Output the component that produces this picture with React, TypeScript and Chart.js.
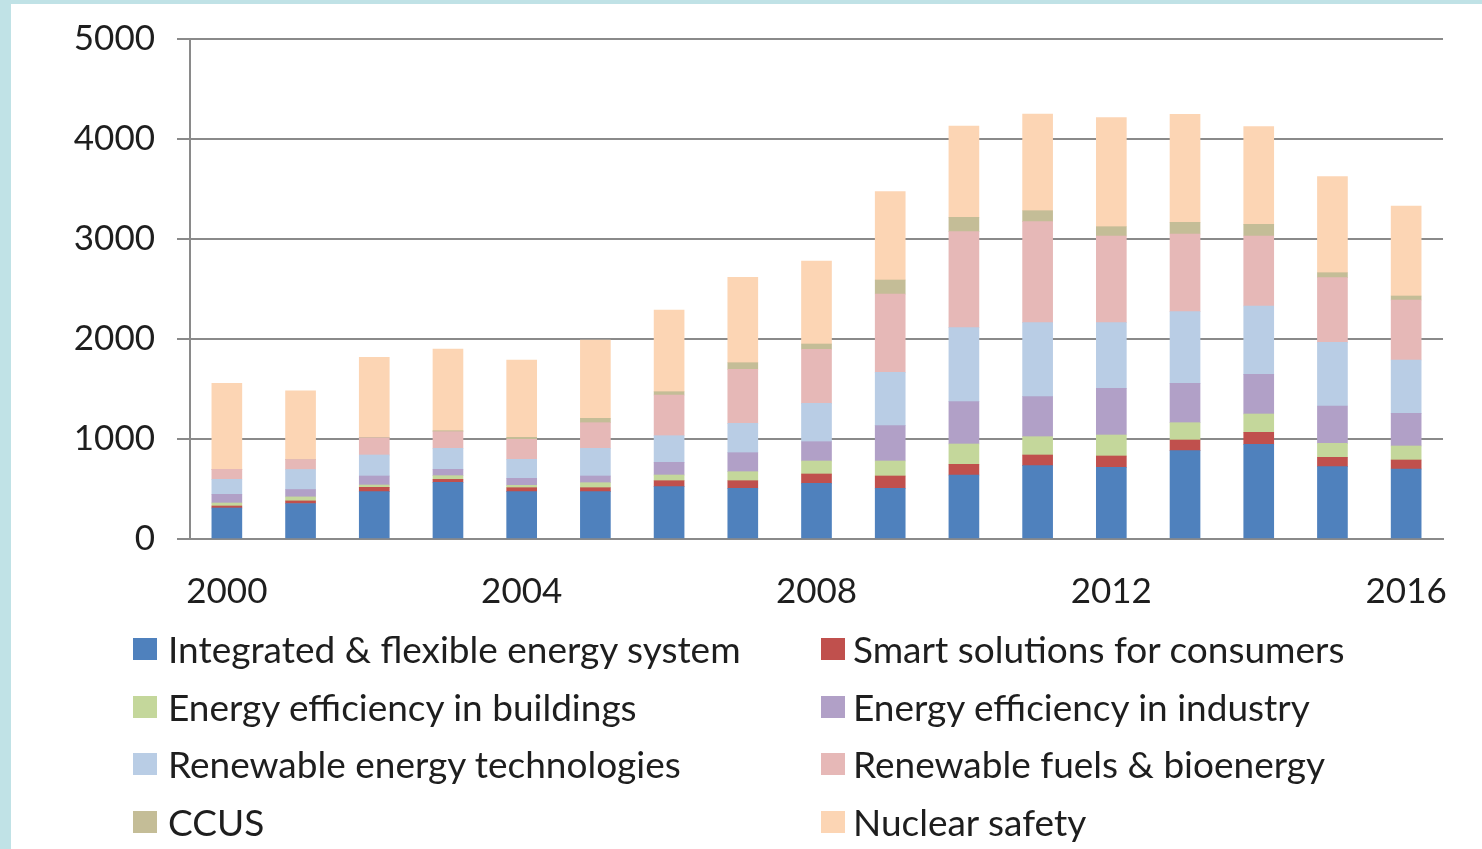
import React, { useEffect, useRef } from "react";
import { Chart, registerables } from "chart.js";

Chart.register(...registerables);

const years = ["2000","2001","2002","2003","2004","2005","2006","2007","2008","2009","2010","2011","2012","2013","2014","2015","2016"];
const shownYears = ["2000", "2004", "2008", "2012", "2016"];
const yTicks = [0, 1000, 2000, 3000, 4000, 5000];

const integrated = [310, 355, 473, 567, 473, 473, 523, 507, 557, 507, 640, 733, 717, 883, 947, 723, 700];
const smart = [20, 26, 44, 30, 40, 40, 60, 76, 93, 123, 107, 107, 113, 107, 120, 94, 90];
const buildings = [30, 40, 23, 36, 24, 50, 57, 90, 130, 150, 203, 183, 210, 173, 183, 140, 140];
const industry = [87, 74, 90, 64, 70, 67, 127, 190, 193, 353, 423, 400, 467, 394, 397, 373, 327];
const renewableTech = [150, 200, 210, 210, 190, 277, 266, 294, 384, 534, 740, 740, 656, 716, 683, 637, 533];
const renewableFuels = [100, 100, 172, 166, 200, 256, 407, 540, 540, 783, 960, 1010, 867, 777, 700, 646, 600];
const ccus = [0, 0, 5, 10, 20, 44, 33, 66, 53, 140, 144, 110, 93, 117, 117, 50, 40];
const nuclear = [860, 686, 800, 817, 773, 783, 817, 854, 830, 883, 913, 967, 1090, 1080, 976, 960, 900];

const seriesLabels = [
  "Integrated & flexible energy system",
  "Smart solutions for consumers",
  "Energy efficiency in buildings",
  "Energy efficiency in industry",
  "Renewable energy technologies",
  "Renewable fuels & bioenergy",
  "CCUS",
  "Nuclear safety",
];
const seriesData = [integrated, smart, buildings, industry, renewableTech, renewableFuels, ccus, nuclear];
const seriesColors = ["#4F81BD", "#C0504D", "#C4D79B", "#B1A0C7", "#B9CDE5", "#E6B8B7", "#C4BD97", "#FCD5B4"];

const FONT = "Lato, 'Open Sans', sans-serif";
const TEXT = "#1e1e1e";
const GRID = "#8a8a8a";

export default function App() {
  const ref = useRef<HTMLCanvasElement | null>(null);

  useEffect(() => {
    if (!ref.current) return;
    const chart = new Chart(ref.current, {
      type: "bar",
      data: {
        labels: years,
        datasets: seriesLabels.map((label, i) => ({
          label,
          data: seriesData[i],
          backgroundColor: seriesColors[i],
          borderWidth: 0,
          barThickness: 30,
        })),
      },
      options: {
        responsive: false,
        animation: false,
        devicePixelRatio: 1,
        layout: { padding: { left: 0, right: 39, top: 39, bottom: 210 } },
        plugins: {
          legend: { display: false },
          tooltip: { enabled: false },
        },
        scales: {
          x: {
            stacked: true,
            grid: { display: false, drawTicks: false },
            border: { display: true, color: GRID, width: 2 },
            ticks: {
              autoSkip: false,
              maxRotation: 0,
              padding: 32,
              color: TEXT,
              font: { family: FONT, size: 35 },
              callback: (_v: any, idx: number) => (shownYears.includes(years[idx]) ? years[idx] : ""),
            },
            afterFit: (s: any) => {
              s.height = 100;
              s.paddingLeft = 0;
              s.paddingRight = 0;
            },
          },
          y: {
            stacked: true,
            min: 0,
            max: 5000,
            afterBuildTicks: (s: any) => {
              s.ticks = yTicks.map((v) => ({ value: v }));
            },
            grid: { color: GRID, lineWidth: 2, tickLength: 13, drawTicks: true },
            border: { display: true, color: GRID, width: 2 },
            ticks: {
              padding: 22,
              color: TEXT,
              font: { family: FONT, size: 35 },
              callback: (v: any) => String(v),
            },
            afterFit: (s: any) => {
              s.width = 190;
              s.paddingTop = 0;
              s.paddingBottom = 0;
            },
          },
        },
      },
    });
    return () => chart.destroy();
  }, []);

  const rowY = [649, 707, 764, 822];
  const colBoxX = [133, 821];
  const colTextX = [168, 853];

  return (
    <div style={{ position: "absolute", left: 0, top: 0, width: 1482, height: 849, background: "#C0E2E6", overflow: "hidden" }}>
      <div style={{ position: "absolute", left: 11, top: 4, width: 1471, height: 845, background: "#ffffff" }} />
      <canvas ref={ref} width={1482} height={849} style={{ position: "absolute", left: 0, top: 0, width: 1482, height: 849 }} />
      {seriesLabels.map((label, i) => {
        const col = i % 2;
        const row = Math.floor(i / 2);
        return (
          <React.Fragment key={label}>
            <div
              style={{
                position: "absolute",
                left: colBoxX[col],
                top: rowY[row] - 11,
                width: 24,
                height: 22,
                background: seriesColors[i],
              }}
            />
            <div
              style={{
                position: "absolute",
                left: colTextX[col],
                top: rowY[row] - 22,
                height: 44,
                lineHeight: "44px",
                fontFamily: FONT,
                fontSize: 37,
                color: TEXT,
                whiteSpace: "nowrap",
              }}
            >
              {label}
            </div>
          </React.Fragment>
        );
      })}
    </div>
  );
}
